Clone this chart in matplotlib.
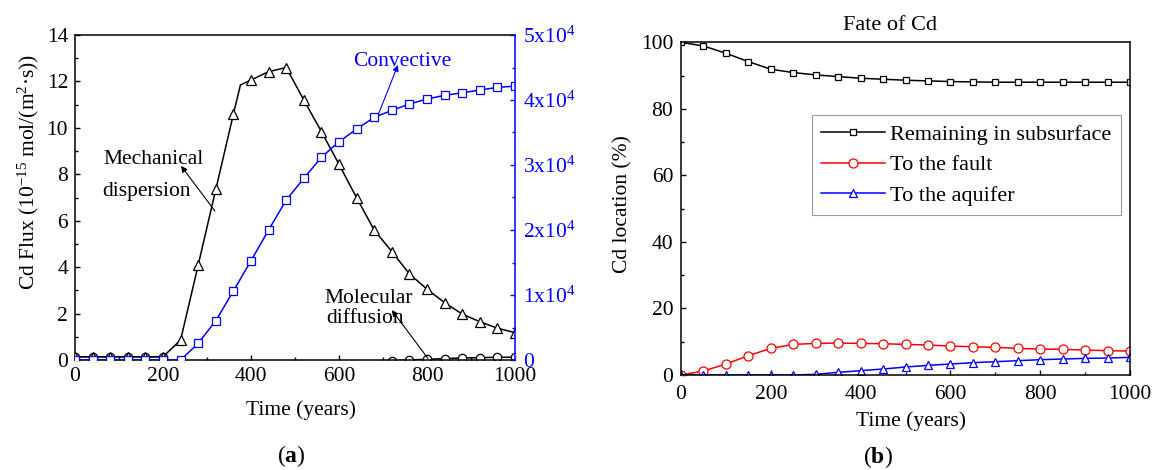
import matplotlib
matplotlib.use("Agg")
import matplotlib.pyplot as plt
from matplotlib.ticker import MultipleLocator, FuncFormatter

plt.rcParams['font.family'] = ['Liberation Serif', 'DejaVu Serif']
plt.rcParams['mathtext.fontset'] = 'custom'
plt.rcParams['mathtext.rm'] = 'Liberation Serif'
plt.rcParams['mathtext.it'] = 'Liberation Serif:italic'
plt.rcParams['mathtext.bf'] = 'Liberation Serif:bold'

# ---------------- data: panel (a) ----------------
years_a = [0, 40, 80, 120, 160, 200, 240, 280, 320, 360, 400, 440, 480, 520, 560,
           600, 640, 680, 720, 760, 800, 840, 880, 920, 960, 1000]
mech_years = [0, 40, 80, 120, 160, 200, 240, 280, 320, 360, 376, 400, 440, 480, 520, 560,
              600, 640, 680, 720, 760, 800, 840, 880, 920, 960, 1000]
mechanical = [0.14, 0.14, 0.14, 0.14, 0.14, 0.14, 0.86, 4.09, 7.35, 10.59, 11.85, 12.06, 12.42,
              12.6, 11.2, 9.84, 8.43, 6.99, 5.6, 4.67, 3.71, 3.05, 2.47, 1.98, 1.65, 1.37, 1.18]
mech_marker_idx = [i for i, y in enumerate(mech_years) if y != 376]
molecular = [0.14, 0.14, 0.14, 0.14, 0.14, 0.14, -0.35, -0.35, -0.35, -0.35, -0.35, -0.35, -0.35,
             -0.35, -0.35, -0.35, -0.35, -0.35, -0.04, 0.0, 0.03, 0.06, 0.09, 0.1, 0.12, 0.12]
convective = [0, 0, 0, 0, 0, 0, 0, 2570, 6045, 10615, 15275, 20000, 24600, 27950, 31180,
              33580, 35530, 37330, 38400, 39380, 40150, 40720, 41110, 41530, 41940, 42140]

# ---------------- data: panel (b) ----------------
years_b = [0, 50, 100, 150, 200, 250, 300, 350, 400, 450, 500, 550, 600, 650, 700,
           750, 800, 850, 900, 950, 1000]
remaining = [100, 98.9, 96.7, 94.2, 91.9, 90.9, 90.2, 89.7, 89.2, 88.9, 88.6, 88.4, 88.2,
             88.1, 88.0, 88.0, 88.0, 88.0, 88.0, 88.0, 88.0]
to_fault = [0, 1.2, 3.3, 5.8, 8.0, 9.2, 9.5, 9.6, 9.5, 9.4, 9.2, 9.0, 8.7, 8.5, 8.3,
            8.0, 7.8, 7.7, 7.5, 7.3, 7.2]
to_aquifer = [0, 0, 0, 0, 0, 0, 0.2, 0.8, 1.3, 1.8, 2.4, 2.9, 3.3, 3.7, 4.0,
              4.3, 4.6, 4.8, 5.0, 5.1, 5.3]

BLUE = '#0000FF'
RED = '#FF0000'
FS = 15.5

W, H = 1156, 470
fig = plt.figure(figsize=(W / 100, H / 100), dpi=100)

# ---------------- panel (a) ----------------
ax = fig.add_axes([75 / W, 1 - 360 / H, 440 / W, 325 / H])
ax2 = ax.twinx()

ax.plot(mech_years, mechanical, color='black', lw=1.1, marker='^', ms=7, mfc='white',
        mec='black', mew=0.9, markevery=mech_marker_idx, zorder=3)
ax.plot(years_a, molecular, color='black', lw=1.1, marker='o', ms=6, mfc='white',
        mec='black', mew=0.9, zorder=2)
ax2.plot(years_a, convective, color=BLUE, lw=1.1, marker='s', ms=5.5, mfc='white',
         mec=BLUE, mew=0.9)

ax.set_xlim(0, 1000)
ax.set_ylim(0, 14)
ax2.set_ylim(0, 50000)

ax.xaxis.set_major_locator(MultipleLocator(200))
ax.xaxis.set_minor_locator(MultipleLocator(100))
ax.yaxis.set_major_locator(MultipleLocator(2))
ax.yaxis.set_minor_locator(MultipleLocator(1))
ax2.yaxis.set_major_locator(MultipleLocator(10000))
ax2.yaxis.set_minor_locator(MultipleLocator(5000))

def sci_fmt(v, pos):
    n = int(round(v / 10000))
    return '0' if n == 0 else '%dx10$^{4}$' % n
ax2.yaxis.set_major_formatter(FuncFormatter(sci_fmt))

ax.tick_params(axis='both', which='both', direction='in', top=False, right=False,
               labelsize=FS, width=1.0)
ax.tick_params(axis='both', which='major', length=3.5)
ax.tick_params(axis='both', which='minor', length=2.5)
ax.tick_params(axis='y', pad=5)
ax.tick_params(axis='x', pad=5)
ax2.tick_params(axis='y', which='both', direction='in', colors=BLUE, labelsize=FS,
                width=1.0, pad=5.5)
ax2.tick_params(axis='y', which='major', length=3.5)
ax2.tick_params(axis='y', which='minor', length=2.5)

for s in ['left', 'top', 'bottom']:
    ax.spines[s].set_linewidth(1.1)
    ax2.spines[s].set_visible(False)
ax.spines['right'].set_visible(False)
ax2.spines['right'].set_color(BLUE)
ax2.spines['right'].set_linewidth(1.1)

ax.set_xlabel('Time (years)', fontsize=FS)
ax.xaxis.set_label_coords((301 - 75) / 440, (360 - 410) / 325)
ax.xaxis.label.set_verticalalignment('center')
ax.set_ylabel('Cd Flux (10$^{-15}$ mol/(m$^{2}$·s))', fontsize=FS)
ax.yaxis.set_label_coords((28 - 75) / 440, (360 - 172) / 325)
ax.yaxis.label.set_verticalalignment('center')

arrow_k = dict(arrowstyle='-|>', color='black', lw=0.8, mutation_scale=9,
               shrinkA=0, shrinkB=0)
arrow_b = dict(arrowstyle='-|>', color=BLUE, lw=0.8, mutation_scale=9,
               shrinkA=0, shrinkB=0)
ax.annotate('', xy=(241, 8.36), xytext=(318, 6.42), arrowprops=arrow_k)
ax.annotate('', xy=(734, 12.71), xytext=(689, 10.56), arrowprops=arrow_b)
ax.annotate('', xy=(720, 2.15), xytext=(802, 0.07), arrowprops=arrow_k)

ax.text(63.6, 8.44, 'Mechanical', fontsize=FS, va='baseline', ha='left')
ax.text(63.0, 7.07, 'dispersion', fontsize=FS, va='baseline', ha='left')
ax.text(632, 12.67, 'Convective', fontsize=FS, va='baseline', ha='left', color=BLUE)
ax.text(568, 2.46, 'Molecular', fontsize=FS, va='baseline', ha='left')
ax.text(570, 1.59, 'diffusion', fontsize=FS, va='baseline', ha='left')

# ---------------- panel (b) ----------------
bx = fig.add_axes([681 / W, 1 - 375 / H, 449 / W, 332.7 / H])
bx.plot(years_b, remaining, color='black', lw=1.1, marker='s', ms=5, mfc='white',
        mec='black', mew=0.9, label='Remaining in subsurface')
bx.plot(years_b, to_fault, color=RED, lw=1.1, marker='o', ms=6.5, mfc='white',
        mec=RED, mew=0.9, label='To the fault')
bx.plot(years_b, to_aquifer, color=BLUE, lw=1.1, marker='^', ms=6, mfc='white',
        mec=BLUE, mew=0.9, label='To the aquifer')
bx.set_xlim(0, 1000)
bx.set_ylim(0, 100)
bx.xaxis.set_major_locator(MultipleLocator(200))
bx.xaxis.set_minor_locator(MultipleLocator(100))
bx.yaxis.set_major_locator(MultipleLocator(20))
bx.yaxis.set_minor_locator(MultipleLocator(10))
bx.tick_params(axis='both', which='both', direction='in', top=False, right=False,
               labelsize=FS, width=1.0)
bx.tick_params(axis='both', which='major', length=3.5)
bx.tick_params(axis='both', which='minor', length=2.5)
bx.tick_params(axis='y', pad=5.5)
bx.tick_params(axis='x', pad=7)
for s in bx.spines.values():
    s.set_linewidth(1.1)

bx.set_xlabel('Time (years)', fontsize=FS)
bx.xaxis.set_label_coords((911 - 681) / 449, (375 - 421) / 332.7)
bx.xaxis.label.set_verticalalignment('center')
bx.set_ylabel('Cd location (%)', fontsize=FS)
bx.yaxis.set_label_coords((623 - 681) / 449, (375 - 204) / 332.7)
bx.yaxis.label.set_verticalalignment('center')
bx.text((890 - 681) / 449, (375 - 26) / 332.7, 'Fate of Cd', transform=bx.transAxes,
        fontsize=16, ha='center', va='center')

leg = bx.legend(loc='upper left', bbox_to_anchor=(812 / W, 1 - 115 / H),
                bbox_transform=fig.transFigure, fontsize=16, frameon=True,
                fancybox=False, edgecolor='#9a9a9a', framealpha=1, borderaxespad=0,
                borderpad=0.42, labelspacing=0.45, handlelength=2.85, handletextpad=0.25)
leg.get_frame().set_linewidth(0.8)

fig.text(291 / W, 1 - 456 / H, r'($\mathbf{a}$)', fontsize=17, ha='center', va='center')
fig.text(878 / W, 1 - 457 / H, r'($\mathbf{b}$)', fontsize=17, ha='center', va='center')

fig.savefig('out.png', dpi=100)
